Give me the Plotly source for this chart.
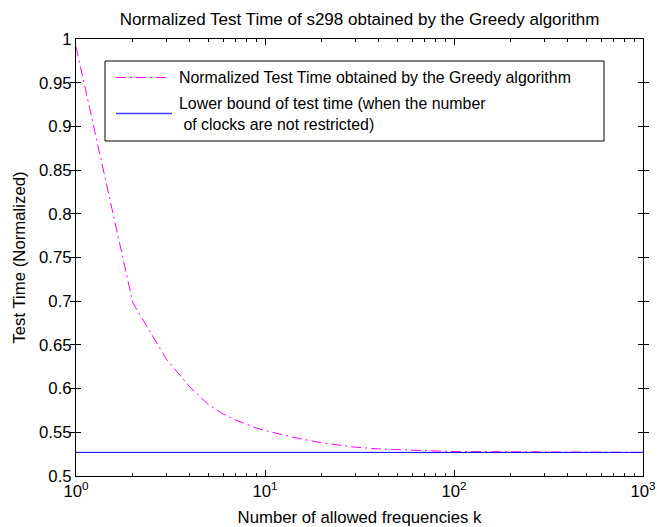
import plotly.graph_objects as go

# Number of allowed frequencies k and the normalized test time from the Greedy algorithm
k_values = [1, 2, 3, 4, 5, 6, 7, 8, 9, 10, 15, 20, 30, 40, 50, 70, 100, 150, 200, 300, 500, 1000]
greedy_time = [0.991, 0.698, 0.634, 0.602, 0.582, 0.571, 0.564, 0.559, 0.555, 0.552, 0.543,
               0.538, 0.533, 0.531, 0.530, 0.529, 0.528, 0.5278, 0.5275, 0.5272, 0.527, 0.527]

# Lower bound of test time (unrestricted number of clocks)
bound_k = [1, 1000]
lower_bound = [0.527, 0.527]

# Decade tick labels written as powers of ten, plus the in-between log ticks
x_tick_plain = ["1", "10", "100", "1000"]
x_ticktext = ["10<sup>0</sup>", "10<sup>1</sup>", "10<sup>2</sup>", "10<sup>3</sup>"]
x_minor_tickvals = [2, 3, 4, 5, 6, 7, 8, 9,
                    20, 30, 40, 50, 60, 70, 80, 90,
                    200, 300, 400, 500, 600, 700, 800, 900]
y_tickvals = [0.5, 0.55, 0.6, 0.65, 0.7, 0.75, 0.8, 0.85, 0.9, 0.95, 1.0]
y_ticktext = ["0.5", "0.55", "0.6", "0.65", "0.7", "0.75", "0.8", "0.85", "0.9", "0.95", "1"]

legend_labels = [
    "Normalized Test Time obtained by the Greedy algorithm",
    "Lower bound of test time (when the number<br>\u00a0of clocks are not restricted)",
]

MAGENTA = "#ff00ff"
BLUE = "#0000ff"
DASHDOT = "10px,4px,2px,4px"
FONT = "Liberation Sans, Arial, sans-serif"

W, H = 657, 527
L, R, T, B = 76, 14, 39, 51
PW, PH = W - L - R, H - T - B


def px_x(x):
    return (x - L) / PW


def px_y(y):
    return (H - B - y) / PH


fig = go.Figure()
fig.add_trace(go.Scatter(
    x=k_values, y=greedy_time, mode="lines",
    line=dict(color=MAGENTA, width=1, dash=DASHDOT),
    name=legend_labels[0], showlegend=False,
))
# drawn on the twin log axis (same range) that carries the small in-between ticks
fig.add_trace(go.Scatter(
    x=bound_k, y=lower_bound, mode="lines", xaxis="x2",
    line=dict(color=BLUE, width=1),
    name=legend_labels[1], showlegend=False,
))

# Boxed legend in the upper part of the axes
shapes = [
    dict(type="rect", xref="paper", yref="paper",
         x0=px_x(105), x1=px_x(604), y0=px_y(141), y1=px_y(61),
         line=dict(color="black", width=1), fillcolor="white", layer="above"),
    dict(type="line", xref="paper", yref="paper",
         x0=px_x(116), x1=px_x(169), y0=px_y(77.5), y1=px_y(77.5),
         line=dict(color=MAGENTA, width=1, dash=DASHDOT), layer="above"),
    dict(type="line", xref="paper", yref="paper",
         x0=px_x(116), x1=px_x(172), y0=px_y(113.5), y1=px_y(113.5),
         line=dict(color="#4040ff", width=1.3), layer="above"),
]
annotations = [
    dict(text=legend_labels[0], xref="paper", yref="paper",
         x=px_x(177), y=px_y(77.5), xanchor="left", yanchor="middle",
         showarrow=False, align="left", font=dict(family=FONT, size=15.9, color="black")),
    dict(text=legend_labels[1], xref="paper", yref="paper",
         x=px_x(177), y=px_y(113.8), xanchor="left", yanchor="middle",
         showarrow=False, align="left", font=dict(family=FONT, size=15.9, color="black")),
]

axis_common = dict(
    showline=True, linecolor="black", linewidth=1, mirror="allticks",
    ticks="inside", tickcolor="black", tickwidth=1,
    showgrid=False, zeroline=False,
    tickfont=dict(family=FONT, size=16.75, color="black"),
)

fig.update_layout(
    width=W, height=H,
    margin=dict(l=L, r=R, t=T, b=B, autoexpand=False),
    paper_bgcolor="white", plot_bgcolor="white",
    font=dict(family=FONT, size=16.75, color="black"),
    title=dict(text="Normalized Test Time of s298 obtained by the Greedy algorithm",
               x=(L + PW / 2) / W, xanchor="center", xref="container",
               y=1 - 19 / H, yanchor="middle", yref="container",
               font=dict(family=FONT, size=17, color="black")),
    xaxis=dict(type="log", range=[0, 3], tickmode="linear", tick0=0, dtick=1,
               exponentformat="none",
               labelalias=dict(zip(x_tick_plain, x_ticktext)),
               ticklen=6,
               title=dict(text="Number of allowed frequencies k", standoff=11,
                          font=dict(family=FONT, size=16.75, color="black")),
               **axis_common),
    xaxis2=dict(type="log", range=[0, 3], overlaying="x", anchor="y", side="bottom",
                tickmode="array", tickvals=x_minor_tickvals, ticklen=3,
                showticklabels=False,
                **axis_common),
    yaxis=dict(range=[0.5, 1.0], tickvals=y_tickvals, ticktext=y_ticktext,
               ticklen=5,
               title=dict(text="Test Time (Normalized)", standoff=9,
                          font=dict(family=FONT, size=16.75, color="black")),
               **axis_common),
    shapes=shapes,
    annotations=annotations,
)

fig.write_html("out.html")
